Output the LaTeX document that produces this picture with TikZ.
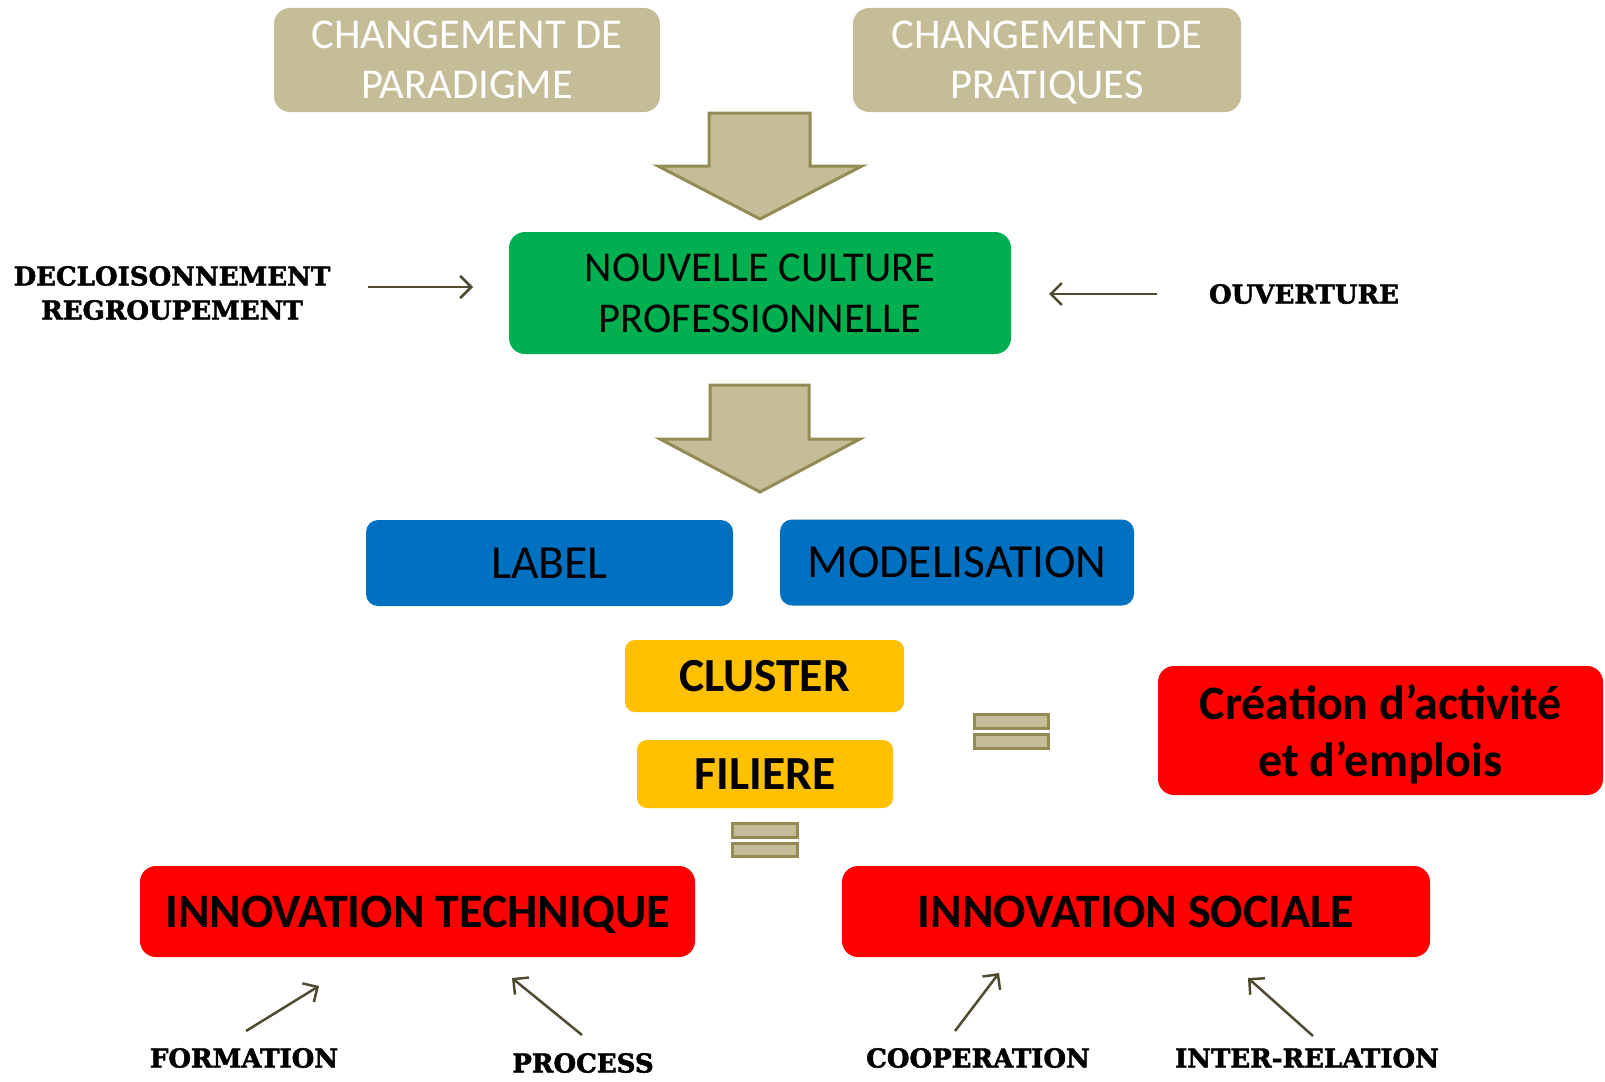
\documentclass[tikz,border=0pt]{standalone}
\usepackage{fontspec}
\setmainfont{Carlito}
\newfontfamily\coopfont{DejaVu Serif}[BoldFeatures={FakeBold=2}]
\usetikzlibrary{arrows.meta}
\definecolor{tan}{HTML}{C4BD97}
\definecolor{olive}{HTML}{948A54}
\definecolor{vert}{HTML}{00B050}
\definecolor{bleu}{HTML}{0070C0}
\definecolor{jaune}{HTML}{FFC000}
\definecolor{rouge}{HTML}{FF0000}
\definecolor{brun}{HTML}{4F4A30}
\tikzstyle{changement} = [rectangle, rounded corners=16pt, minimum height=104pt,
text centered, align=center, inner sep=0pt, text depth=0pt, fill=tan, text=white,
font=\fontsize{42.5}{50}\selectfont]
\tikzstyle{culture} = [rectangle, rounded corners=16pt, minimum width=502pt,
minimum height=122pt, text centered, align=center, inner sep=0pt, text depth=0pt,
fill=vert, font=\fontsize{42.5}{51}\selectfont]
\tikzstyle{outil} = [rectangle, rounded corners=12pt, minimum height=86pt,
text centered, inner sep=0pt, text depth=0pt, fill=bleu,
font=\fontsize{47.5}{56}\selectfont]
\tikzstyle{groupe} = [rectangle, rounded corners=10pt, text centered,
inner sep=0pt, text depth=0pt, fill=jaune, font=\bfseries\fontsize{47.5}{56}\selectfont]
\tikzstyle{innovation} = [rectangle, rounded corners=16pt, minimum height=91pt,
text centered, align=center, inner sep=0pt, text depth=0pt, fill=rouge,
font=\bfseries\fontsize{48}{57}\selectfont]
\tikzstyle{mot} = [align=center, inner sep=0pt,
font=\coopfont\bfseries\fontsize{26}{34}\selectfont]
\tikzstyle{fleche} = [draw=brun, line width=2.5pt,
-{Straight Barb[length=11pt,width=22pt]}]
\tikzstyle{grossefleche} = [fill=tan, draw=olive, line width=3pt, line join=miter]
\tikzstyle{egal} = [fill=tan, draw=olive, line width=3pt]

\begin{document}
\begin{tikzpicture}[x=1pt, y=-1pt]
\useasboundingbox (0,0) rectangle (1605,1081);

\node(paradigme)[changement, minimum width=386pt] at (467,60) {CHANGEMENT DE\\PARADIGME};
\node(pratiques)[changement, minimum width=388pt] at (1047,60) {CHANGEMENT DE\\PRATIQUES};
\node(culture)[culture] at (760,293) {NOUVELLE CULTURE\\PROFESSIONNELLE};
\node(label)[outil, minimum width=367pt] at (549.5,563) {LABEL};
\node(modelisation)[outil, minimum width=354pt] at (957,562.5) {MODELISATION};
\node(cluster)[groupe, minimum width=279pt, minimum height=72pt] at (764.5,676) {CLUSTER};
\node(filiere)[groupe, minimum width=256pt, minimum height=68pt] at (765,774) {FILIERE};
\node(creation)[innovation, minimum width=445pt, minimum height=129pt] at (1380.5,730.5) {Création d’activité\\et d’emplois};
\node(technique)[innovation, minimum width=555pt] at (417.5,911.5) {INNOVATION TECHNIQUE};
\node(sociale)[innovation, minimum width=588pt] at (1136,911.5) {INNOVATION SOCIALE};

\node(decloison)[mot] at (172,293) {DECLOISONNEMENT\\REGROUPEMENT};
\node(ouverture)[mot] at (1304,294) {OUVERTURE};
\node(formation)[mot] at (244,1058) {FORMATION};
\node(process)[mot] at (583,1063) {PROCESS};
\node(cooperation)[mot] at (978,1058) {COOPERATION};
\node(interrelation)[mot] at (1307,1058) {INTER-RELATION};

\coordinate(d1) at (368,287);
\coordinate(d2) at (473,287);
\coordinate(o1) at (1157,294);
\coordinate(o2) at (1049,294);
\coordinate(f1) at (246,1031);
\coordinate(f2) at (319,986);
\coordinate(p1) at (582,1035);
\coordinate(p2) at (512,978);
\coordinate(c1) at (955,1031);
\coordinate(c2) at (999,973);
\coordinate(i1) at (1313,1036);
\coordinate(i2) at (1248,978);

\draw[fleche](d1) -- (d2);
\draw[fleche](o1) -- (o2);
\draw[fleche](f1) -- (f2);
\draw[fleche](p1) -- (p2);
\draw[fleche](c1) -- (c2);
\draw[fleche](i1) -- (i2);

\draw[grossefleche] (709,113) -- (810,113) -- (810,166) -- (862,166) -- (760,219)
-- (658,166) -- (709,166) -- cycle;
\draw[grossefleche] (710,385) -- (809,385) -- (809,439) -- (860,439) -- (760,492)
-- (660,439) -- (710,439) -- cycle;

\draw[egal] (974,714) rectangle (1048,728);
\draw[egal] (974,734) rectangle (1048,748);
\draw[egal] (732,823) rectangle (797,837);
\draw[egal] (732,843) rectangle (797,856);

\end{tikzpicture}
\end{document}
